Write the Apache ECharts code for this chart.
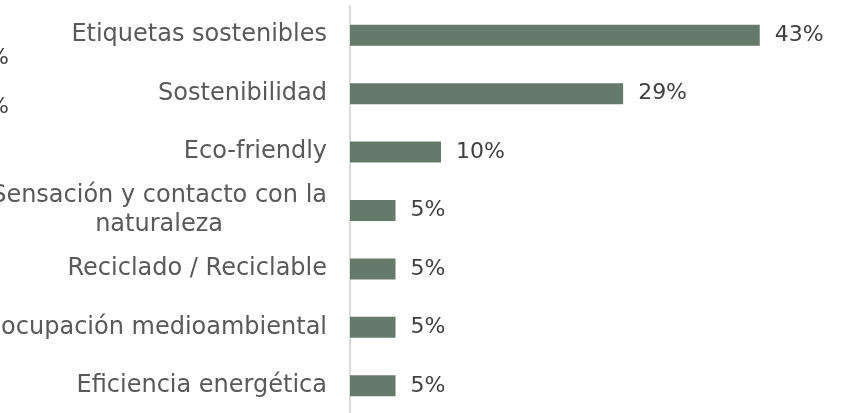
<!DOCTYPE html>
<html>
<head>
<meta charset="utf-8">
<script src="https://cdn.jsdelivr.net/npm/echarts@6/dist/echarts.min.js"></script>
<style>
html,body{margin:0;padding:0;background:#fff;}
#c{width:850px;height:413px;}
</style>
</head>
<body>
<div id="c"></div>
<script>
// Categories (top to bottom as shown)
const categories = [
  'Etiquetas sostenibles',
  'Sostenibilidad',
  'Eco-friendly',
  'Sensación y contacto con la\nnaturaleza',
  'Reciclado / Reciclable',
  'Preocupación medioambiental',
  'Eficiencia energética'
];
// Share of mentions (%)
const values = [42.86, 28.57, 9.52, 4.76, 4.76, 4.76, 4.76];

const FONT = 'DejaVu Sans';
const chart = echarts.init(document.getElementById('c'), null, {renderer: 'canvas'});
chart.setOption({
  animation: false,
  backgroundColor: '#ffffff',
  grid: {left: 350, right: 22, top: 6, bottom: -2, containLabel: false, outerBoundsMode: 'none'},
  xAxis: {
    type: 'value', min: 0, max: 50,
    show: false
  },
  yAxis: {
    type: 'category',
    data: categories.slice().reverse(),
    axisLine: {show: true, lineStyle: {color: '#dcdcdc', width: 2}},
    axisTick: {show: false},
    splitLine: {show: false},
    axisLabel: {
      margin: 23,
      color: '#595959',
      fontFamily: FONT,
      fontSize: 24,
      lineHeight: 29,
      formatter: function (v) {
        if (v.indexOf('\n') >= 0) return '{c|' + v + '}';
        return v;
      },
      rich: {c: {align: 'center', color: '#595959', fontFamily: FONT, fontSize: 24, lineHeight: 29}}
    }
  },
  series: [{
    type: 'bar',
    data: values.slice().reverse(),
    barWidth: 21,
    itemStyle: {color: '#667a6b'},
    label: {
      show: true,
      position: 'right',
      distance: 15,
      color: '#404040',
      fontFamily: FONT,
      fontSize: 22,
      formatter: function (p) { return Math.round(p.value) + '%'; }
    }
  }],
  graphic: [
    {type: 'text', left: -12, top: 47, style: {text: '%', fontFamily: FONT, fontSize: 22, fill: '#404040'}},
    {type: 'text', left: -12, top: 96, style: {text: '%', fontFamily: FONT, fontSize: 22, fill: '#404040'}}
  ]
});
</script>
</body>
</html>
